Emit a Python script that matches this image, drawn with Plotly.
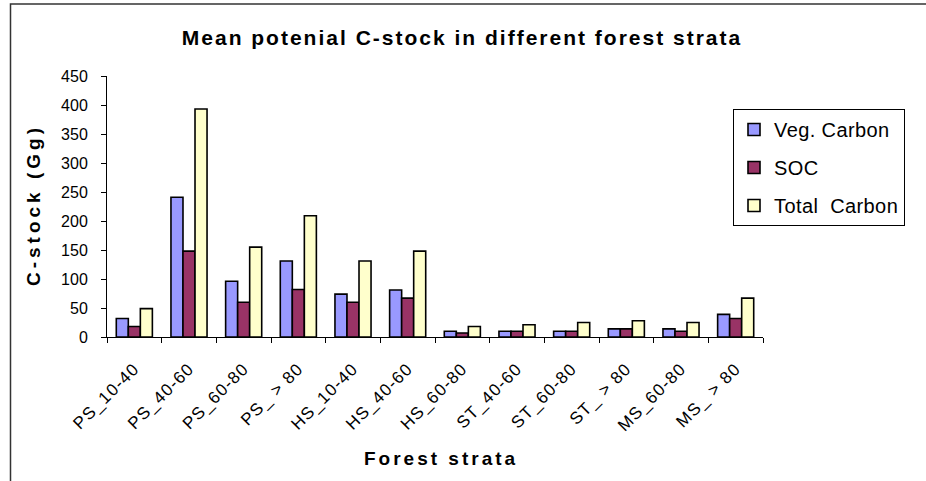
import plotly.graph_objects as go

categories = ["PS_10-40", "PS_40-60", "PS_60-80", "PS_ > 80", "HS_10-40", "HS_40-60",
              "HS_60-80", "ST_40-60", "ST_60-80", "ST_ > 80", "MS_60-80", "MS_ > 80"]
veg_carbon = [32, 241, 96, 131, 74, 81, 10, 10, 10, 14, 14, 39]
soc = [18, 148, 60, 82, 60, 67, 7, 10, 10, 14, 10, 32]
total_carbon = [49, 393, 155, 209, 131, 148, 18, 21, 25, 28, 25, 67]
series_names = ["Veg. Carbon", "SOC", "Total\u00a0 Carbon"]
colors = ["#9999FF", "#993366", "#FFFFCC"]

FONT = "Liberation Sans, Arial, sans-serif"
W, H = 926, 481
L, R, T, B = 107, 163, 76, 144
pw, ph = W - L - R, H - T - B


def px(x):
    return (x - L) / pw


def py(y):
    return (H - B - y) / ph


def spaced(text, sp):
    return f'<span style="letter-spacing:{sp}px">{text}</span>'


fig = go.Figure()
for i, (name, vals) in enumerate(zip(series_names, [veg_carbon, soc, total_carbon])):
    fig.add_trace(go.Bar(
        x=categories, y=vals, name=spaced(name, 0.4), legendgroup=f"g{i}",
        marker=dict(color=colors[i], line=dict(color="black", width=1.6)),
    ))

fig.update_layout(
    width=W, height=H,
    margin=dict(l=L, r=R, t=T, b=B, autoexpand=False),
    paper_bgcolor="white", plot_bgcolor="white",
    barmode="group", bargap=0.34, bargroupgap=0,
    font=dict(family=FONT, size=16, color="black"),
    title=dict(text="<b>" + spaced("Mean potenial C-stock in different forest strata", 2.0) + "</b>",
               x=462 / W, xanchor="center", y=1 - 38 / H, yanchor="middle",
               font=dict(family=FONT, size=21, color="black")),
    legend=dict(x=px(733), xanchor="left", y=py(109), yanchor="top",
                bordercolor="black", borderwidth=1, bgcolor="white",
                font=dict(family=FONT, size=20, color="black"),
                tracegroupgap=9),
    showlegend=True,
)
fig.update_xaxes(
    type="category", tickangle=-45, tickson="boundaries",
    tickvals=categories, ticktext=[spaced(c, 1.2) for c in categories],
    ticks="outside", ticklen=5, tickcolor="black", ticklabelstandoff=14,
    showline=True, linecolor="black", linewidth=1, showgrid=False,
    tickfont=dict(family=FONT, size=17, color="black"),
)
fig.update_yaxes(
    range=[0, 450], dtick=50, ticks="outside", ticklen=5, tickcolor="black",
    ticklabelstandoff=10,
    showline=True, linecolor="black", linewidth=1, showgrid=False, zeroline=False,
    tickfont=dict(family=FONT, size=16, color="black"),
)
fig.add_annotation(text="<b>" + spaced("C-stock (Gg)", 4) + "</b>", xref="paper", yref="paper",
                   x=px(33), y=py(205), textangle=-90, showarrow=False,
                   xanchor="center", yanchor="middle",
                   font=dict(family=FONT, size=19, color="black"))
fig.add_annotation(text="<b>" + spaced("Forest strata", 3) + "</b>", xref="paper", yref="paper",
                   x=px(441), y=py(458), showarrow=False,
                   xanchor="center", yanchor="middle",
                   font=dict(family=FONT, size=19, color="black"))
fig.add_shape(type="path", xref="paper", yref="paper",
              path=f"M {px(10.5)},{py(481)} L {px(10.5)},{py(4)} L {px(926)},{py(4)}",
              line=dict(color="#333333", width=1.5))

fig.write_html("out.html", config={"displayModeBar": False},
               post_script="document.body.style.margin='0px';document.body.style.padding='0px';")
